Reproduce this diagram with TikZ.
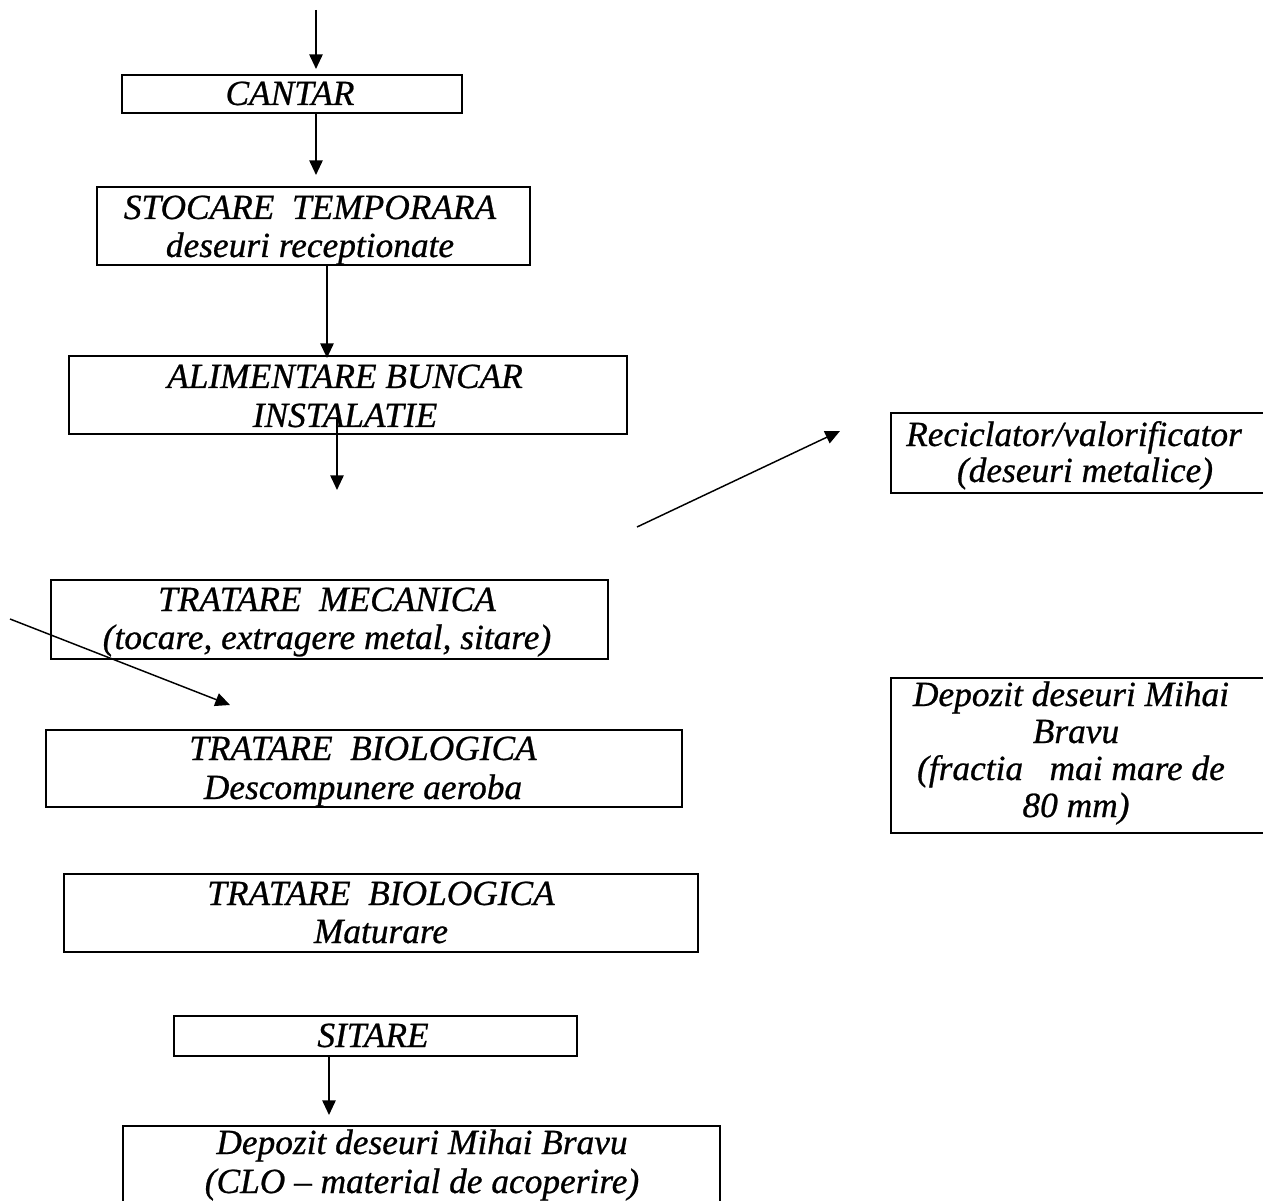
\documentclass[tikz,border=0pt]{standalone}
\usepackage{fontspec}
\setmainfont{Liberation Serif}[ItalicFeatures={FakeBold=0.7}]
\usetikzlibrary{arrows.meta}
\tikzset{
  box/.style={draw, line width=1.4pt, rectangle, inner sep=0pt, outer sep=0pt},
  txt/.style={anchor=base, inner sep=0pt, outer sep=0pt, font=\fontsize{26.5}{31}\selectfont\itshape},
  arr/.style={line width=1.3pt, -{Triangle[length=11pt,width=10pt]}},
  darr/.style={line width=1.1pt, -{Triangle[length=11pt,width=10pt]}},
}
\begin{document}
\begin{tikzpicture}[x=0.75pt,y=-0.75pt]
\useasboundingbox (0,0) rectangle (1263,1201);
\clip (0,0) rectangle (1263,1201);
\fill[white] (0,0) rectangle (1263,1201);

% boxes
\node[box, minimum width=255pt,    minimum height=28.5pt]  (cantar) at (292,94) {};
\node[box, minimum width=324.75pt, minimum height=58.5pt]  (stoc)   at (313.5,226) {};
\node[box, minimum width=418.5pt,  minimum height=58.5pt]  (alim)   at (348,395) {};
\node[box, minimum width=288pt,    minimum height=60pt]    (recic)  at (1083,453) {};
\node[box, minimum width=417.75pt, minimum height=59.25pt] (mec)    at (329.5,619.5) {};
\node[box, minimum width=477pt,    minimum height=57.75pt] (aer)    at (364,768.5) {};
\node[box, minimum width=288pt,    minimum height=116.25pt](depR)   at (1083,755.5) {};
\node[box, minimum width=475.5pt,  minimum height=58.5pt]  (mat)    at (381,913) {};
\node[box, minimum width=302.25pt, minimum height=30pt]    (sit)    at (375.5,1036) {};
\node[box, minimum width=447.75pt, minimum height=85.5pt]  (depB)   at (421.5,1183) {};

% texts
\node[txt] (cantarT) at (290,105) {CANTAR};
\node[txt] (stocT1) at (310,219) {STOCARE\ \ TEMPORARA};
\node[txt] (stocT2) at (310,257) {deseuri receptionate};
\node[txt] (alimT1) at (345,388) {ALIMENTARE BUNCAR};
\node[txt] (alimT2) at (345,427) {INSTALATIE};
\node[txt] (recicT1) at (1074,446) {Reciclator/valorificator};
\node[txt] (recicT2) at (1085,482) {(deseuri metalice)};
\node[txt] (mecT1) at (327,611) {TRATARE\ \ MECANICA};
\node[txt] (mecT2) at (327,649) {(tocare, extragere metal, sitare)};
\node[txt] (aerT1) at (363,760) {TRATARE\ \ BIOLOGICA};
\node[txt] (aerT2) at (363,799) {Descompunere aeroba};
\node[txt] (depRT1) at (1071,706) {Depozit deseuri Mihai};
\node[txt] (depRT2) at (1076,743) {Bravu};
\node[txt] (depRT3) at (1071,780) {(fractia\ \ \ mai mare de};
\node[txt] (depRT4) at (1076,817) {80 mm)};
\node[txt] (matT1) at (381,905) {TRATARE\ \ BIOLOGICA};
\node[txt] (matT2) at (381,943) {Maturare};
\node[txt] (sitT) at (373,1047) {SITARE};
\node[txt] (depBT1) at (422,1154) {Depozit deseuri Mihai Bravu};
\node[txt] (depBT2) at (422,1193) {(CLO – material de acoperire)};

% connectors
\coordinate (in) at (316,10);
\coordinate (t1) at (316,69);
\coordinate (t2) at (316,175);
\coordinate (t3) at (327,358);
\coordinate (s4) at (337,417);
\coordinate (t4) at (337,490);
\coordinate (s5) at (637,527);
\coordinate (t5) at (840,431);
\coordinate (s6) at (10,619);
\coordinate (t6) at (230,705);
\coordinate (t7) at (329,1115);

\draw[arr] (in) -- (t1);
\draw[arr] (cantar.south -| t2) -- (t2);
\draw[arr] (stoc.south -| t3) -- (t3);
\draw[arr] (s4) -- (t4);
\draw[darr] (s5) -- (t5);
\draw[darr] (s6) -- (t6);
\draw[arr] (sit.south -| t7) -- (t7);
\end{tikzpicture}
\end{document}
